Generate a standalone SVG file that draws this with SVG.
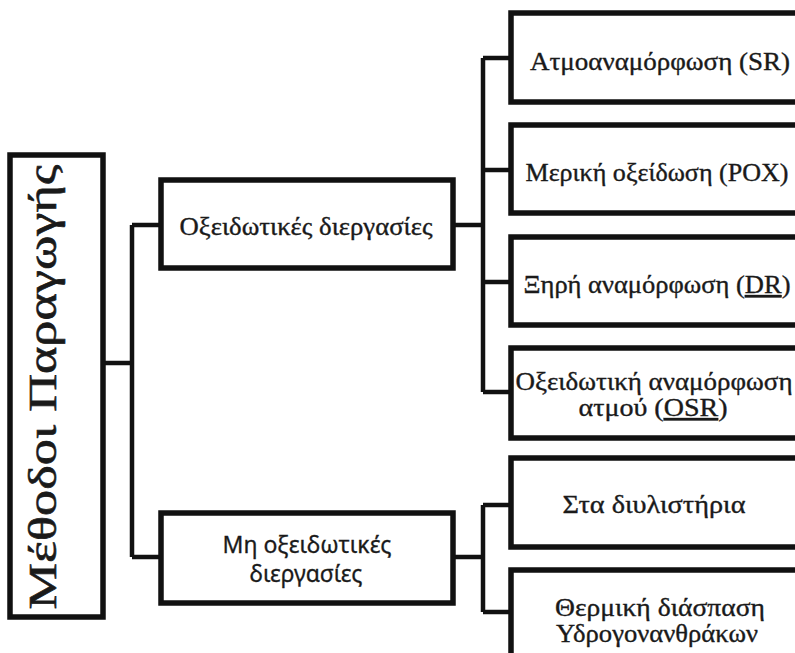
<svg xmlns="http://www.w3.org/2000/svg" width="795" height="653" viewBox="0 0 795 653">
<style>
.box{fill:#fff;stroke:#111;stroke-width:5.5}
.ln{fill:none;stroke:#111;stroke-width:4.5;stroke-linejoin:miter}
.serif{font-family:'Liberation Serif','DejaVu Serif',serif;fill:#1a1a1a;stroke:#1a1a1a;stroke-width:0.35;text-anchor:middle;font-size:25px}
.sans{font-family:'Noto Sans','Open Sans',sans-serif;fill:#1a1a1a;stroke:#1a1a1a;stroke-width:0.3;text-anchor:middle;font-size:23px}
.u{text-decoration:underline}
</style>
<rect width="795" height="653" fill="#fff"/>
<g id="connectors">
<path class="ln" d="M103,363 H132 M132,225 V557 M132,225 H161 M132,557 H161"/>
<path class="ln" d="M453,225 H483 M483,58 V392 M483,58 H511 M483,170 H511 M483,282 H511 M483,392 H511"/>
<path class="ln" d="M453,557 H483 M483,505 V612 M483,505 H511 M483,612 H511"/>
</g>
<g id="root">
<rect class="box" x="10" y="155" width="93" height="462"/>
<text class="serif" transform="translate(56,387) rotate(-90)" style="font-size:40px;stroke-width:0.6" textLength="445" lengthAdjust="spacingAndGlyphs">Μέθοδοι Παραγωγής</text>
</g>
<g id="oxid">
<rect class="box" x="161" y="180" width="292" height="88"/>
<text class="serif" x="306" y="235" textLength="253" lengthAdjust="spacingAndGlyphs">Οξειδωτικές διεργασίες</text>
</g>
<g id="nonoxid">
<rect class="box" x="161" y="513" width="292" height="90"/>
<text class="sans" x="307" y="553" textLength="169" lengthAdjust="spacingAndGlyphs">Μη οξειδωτικές</text>
<text class="sans" x="306" y="582" textLength="113" lengthAdjust="spacingAndGlyphs">διεργασίες</text>
</g>
<g id="sr">
<rect class="box" x="511" y="13" width="300" height="89"/>
<text class="serif" x="660" y="70" textLength="260" lengthAdjust="spacingAndGlyphs">Ατμοαναμόρφωση (SR)</text>
</g>
<g id="pox">
<rect class="box" x="511" y="125" width="300" height="88"/>
<text class="serif" x="657" y="181" textLength="263" lengthAdjust="spacingAndGlyphs">Μερική οξείδωση (POX)</text>
</g>
<g id="dr">
<rect class="box" x="511" y="237" width="300" height="88"/>
<text class="serif" x="657" y="293" textLength="267" lengthAdjust="spacingAndGlyphs">Ξηρή αναμόρφωση (<tspan class="u">DR</tspan>)</text>
</g>
<g id="osr">
<rect class="box" x="511" y="348" width="300" height="90"/>
<text class="serif" x="654" y="390" textLength="277" lengthAdjust="spacingAndGlyphs">Οξειδωτική αναμόρφωση</text>
<text class="serif" x="653" y="416" textLength="149" lengthAdjust="spacingAndGlyphs">ατμού (<tspan class="u">OSR</tspan>)</text>
</g>
<g id="refinery">
<rect class="box" x="511" y="458" width="300" height="89"/>
<text class="serif" x="654" y="513" textLength="183" lengthAdjust="spacingAndGlyphs">Στα διυλιστήρια</text>
</g>
<g id="cracking">
<rect class="box" x="511" y="570" width="300" height="100"/>
<text class="serif" x="660" y="616" textLength="210" lengthAdjust="spacingAndGlyphs">Θερμική διάσπαση</text>
<text class="serif" x="657" y="642" textLength="202" lengthAdjust="spacingAndGlyphs">Υδρογονανθράκων</text>
</g>
</svg>
